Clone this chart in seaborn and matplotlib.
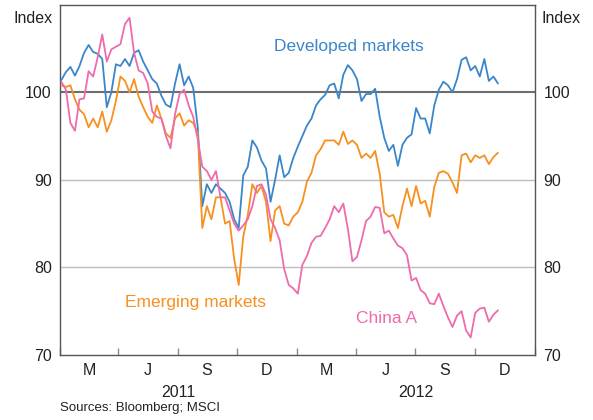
import numpy as np
import pandas as pd
import matplotlib
matplotlib.use("Agg")
import matplotlib.pyplot as plt
import matplotlib.dates as mdates
import seaborn as sns

# ---- data (weekly readings, index) ----
start_date = "2011-01-03"
developed = [101.4, 102.3, 102.9, 101.9, 103.0, 104.5, 105.4, 104.6, 104.4, 103.8,
             98.3, 100.0, 103.2, 103.0, 103.8, 103.0, 104.5, 104.8, 103.5, 102.5,
             101.5, 101.0, 99.6, 98.6, 98.3, 101.0, 103.2, 100.8, 101.8, 100.5,
             96.0, 87.0, 89.5, 88.5, 89.5, 89.0, 88.5, 87.5, 85.5, 84.5,
             90.5, 91.5, 94.5, 93.7, 92.2, 91.3, 87.5, 90.0, 92.8, 90.3,
             90.8, 92.5, 93.8, 95.0, 96.2, 97.0, 98.5, 99.2, 99.7, 100.8,
             101.0, 99.3, 102.0, 103.1, 102.5, 101.5, 99.0, 99.8, 99.8, 100.4,
             97.2, 94.8, 93.3, 94.0, 91.6, 94.0, 94.8, 95.2, 98.2, 97.0,
             97.0, 95.3, 98.5, 100.3, 101.2, 100.8, 100.0, 101.5, 103.7, 104.0,
             102.5, 103.0, 101.8, 103.8, 101.3, 101.8, 101.0]
emerging = [100.8, 100.6, 100.8, 99.2, 98.0, 97.5, 96.0, 97.0, 96.0, 97.8,
            95.5, 96.8, 99.0, 101.8, 101.3, 100.0, 101.5, 99.5, 98.3, 97.2,
            96.5, 98.5, 97.0, 95.3, 94.8, 97.0, 97.6, 96.2, 96.8, 96.5,
            95.3, 84.5, 87.0, 85.5, 88.0, 88.0, 85.0, 85.3, 81.0, 78.0,
            83.5, 86.0, 89.5, 88.5, 89.3, 87.5, 83.0, 86.5, 87.0, 85.0,
            84.8, 85.8, 86.3, 87.5, 89.8, 90.8, 92.8, 93.5, 94.5, 94.5,
            94.5, 94.0, 95.5, 94.1, 94.5, 94.0, 92.5, 93.0, 92.5, 93.3,
            90.7, 86.3, 85.8, 86.0, 84.5, 87.0, 89.0, 87.0, 89.3, 87.3,
            87.6, 85.8, 89.2, 90.8, 91.0, 90.7, 89.7, 88.5, 92.8, 93.0,
            92.0, 92.8, 92.5, 92.8, 91.8, 92.6, 93.1]
china_a = [101.2, 100.3, 96.5, 95.6, 99.2, 99.3, 102.4, 101.8, 104.0, 106.6,
           103.5, 104.9, 105.2, 105.5, 107.8, 108.5, 104.5, 102.5, 102.2, 101.0,
           97.8, 97.2, 97.0, 95.0, 93.6, 97.5, 99.8, 100.3, 98.5, 97.2,
           94.6, 91.5, 91.0, 90.0, 91.0, 88.0, 88.0, 86.5, 85.0, 84.2,
           84.8, 85.5, 87.0, 89.3, 89.5, 88.3, 85.5, 84.5, 83.1, 79.8,
           78.0, 77.6, 77.0, 80.3, 81.3, 82.8, 83.5, 83.6, 84.5, 85.5,
           87.0, 86.3, 87.3, 84.4, 80.7, 81.2, 83.1, 85.3, 85.8, 86.9,
           86.8, 83.9, 84.2, 83.3, 82.5, 82.2, 81.4, 78.5, 78.8, 77.4,
           77.0, 75.9, 75.8, 77.0, 75.6, 74.3, 73.2, 74.5, 75.0, 72.8,
           72.0, 74.8, 75.3, 75.4, 73.8, 74.6, 75.1]
series_names = ["Developed markets", "Emerging markets", "China A"]
month_labels = ["M", "J", "S", "D", "M", "J", "S", "D"]
year_labels = ["2011", "2012"]
ytick_vals = [70, 80, 90, 100]

colors = {"Developed markets": "#3B86C9",
          "Emerging markets": "#F7901E",
          "China A": "#EE6BAC"}

dates = pd.date_range(start_date, periods=len(developed), freq="7D")
df = pd.concat([
    pd.DataFrame({"date": dates, "value": developed, "series": series_names[0]}),
    pd.DataFrame({"date": dates, "value": emerging, "series": series_names[1]}),
    pd.DataFrame({"date": dates, "value": china_a, "series": series_names[2]}),
])

sns.set_theme(style="white")
plt.rcParams["font.family"] = ["Liberation Sans", "DejaVu Sans"]

fig = plt.figure(figsize=(5.93, 4.20), dpi=100)
ax = fig.add_axes([0.1012, 0.1548, 0.8010, 0.8340])

# gridlines
for v in [80, 90]:
    ax.axhline(v, color="#BDBDBD", lw=1.0, zorder=1)
ax.axhline(100, color="#6E6E6E", lw=1.5, zorder=1)

sns.lineplot(data=df, x="date", y="value", hue="series", palette=colors,
             hue_order=series_names, linewidth=1.3, legend=False, ax=ax, zorder=3)

ax.set_xlim(pd.Timestamp("2011-01-01"), pd.Timestamp("2013-01-01"))
ax.set_ylim(70, 110)
ax.set_xlabel("")
ax.set_ylabel("")

# x ticks: quarter boundaries (marks) + quarter centres (labels)
qstarts = pd.date_range("2011-01-01", "2013-01-01", freq="QS")
ax.set_xticks(qstarts)
ax.set_xticklabels([""] * len(qstarts))
qmids = [q + pd.Timedelta(days=45) for q in qstarts[:-1]]
ax.set_xticks(qmids, minor=True)
ax.set_xticklabels(month_labels, minor=True)
ax.tick_params(axis="x", which="major", direction="in", length=5, width=1,
               color="#8A8A8A", bottom=True, top=False)
ax.tick_params(axis="x", which="minor", length=0, pad=6, labelsize=11.5,
               labelcolor="#222222")

for i, yl in enumerate(year_labels):
    ax.text(pd.Timestamp(f"{2011 + i}-07-02"), -0.085, yl,
            transform=ax.get_xaxis_transform(), ha="center", va="top",
            fontsize=11.5, color="#222222")

# y ticks both sides
ax.set_yticks(ytick_vals)
ax.set_yticklabels([str(v) for v in ytick_vals])
ax.tick_params(axis="y", which="major", length=0, labelsize=11.5,
               labelcolor="#222222", left=True, right=True,
               labelleft=True, labelright=True, pad=6)
ax.text(-0.015, 0.962, "Index", transform=ax.transAxes, ha="right",
        va="center", fontsize=11.5, color="#222222")
ax.text(1.013, 0.962, "Index", transform=ax.transAxes, ha="left",
        va="center", fontsize=11.5, color="#222222")

for s in ax.spines.values():
    s.set_visible(True)
    s.set_color("#555555")
    s.set_linewidth(1.0)

# series labels
ax.text(pd.Timestamp("2011-11-27"), 105.2, "Developed markets",
        color=colors["Developed markets"], fontsize=12.5, va="center", ha="left")
ax.text(pd.Timestamp("2011-04-11"), 76.0, "Emerging markets",
        color=colors["Emerging markets"], fontsize=12.5, va="center", ha="left")
ax.text(pd.Timestamp("2012-03-31"), 74.2, "China A",
        color=colors["China A"], fontsize=12.5, va="center", ha="left")

fig.text(60 / 593, 1 - 408 / 420, "Sources: Bloomberg; MSCI", ha="left",
         va="center", fontsize=9.5, color="#222222")

fig.savefig("out.png", dpi=100)
